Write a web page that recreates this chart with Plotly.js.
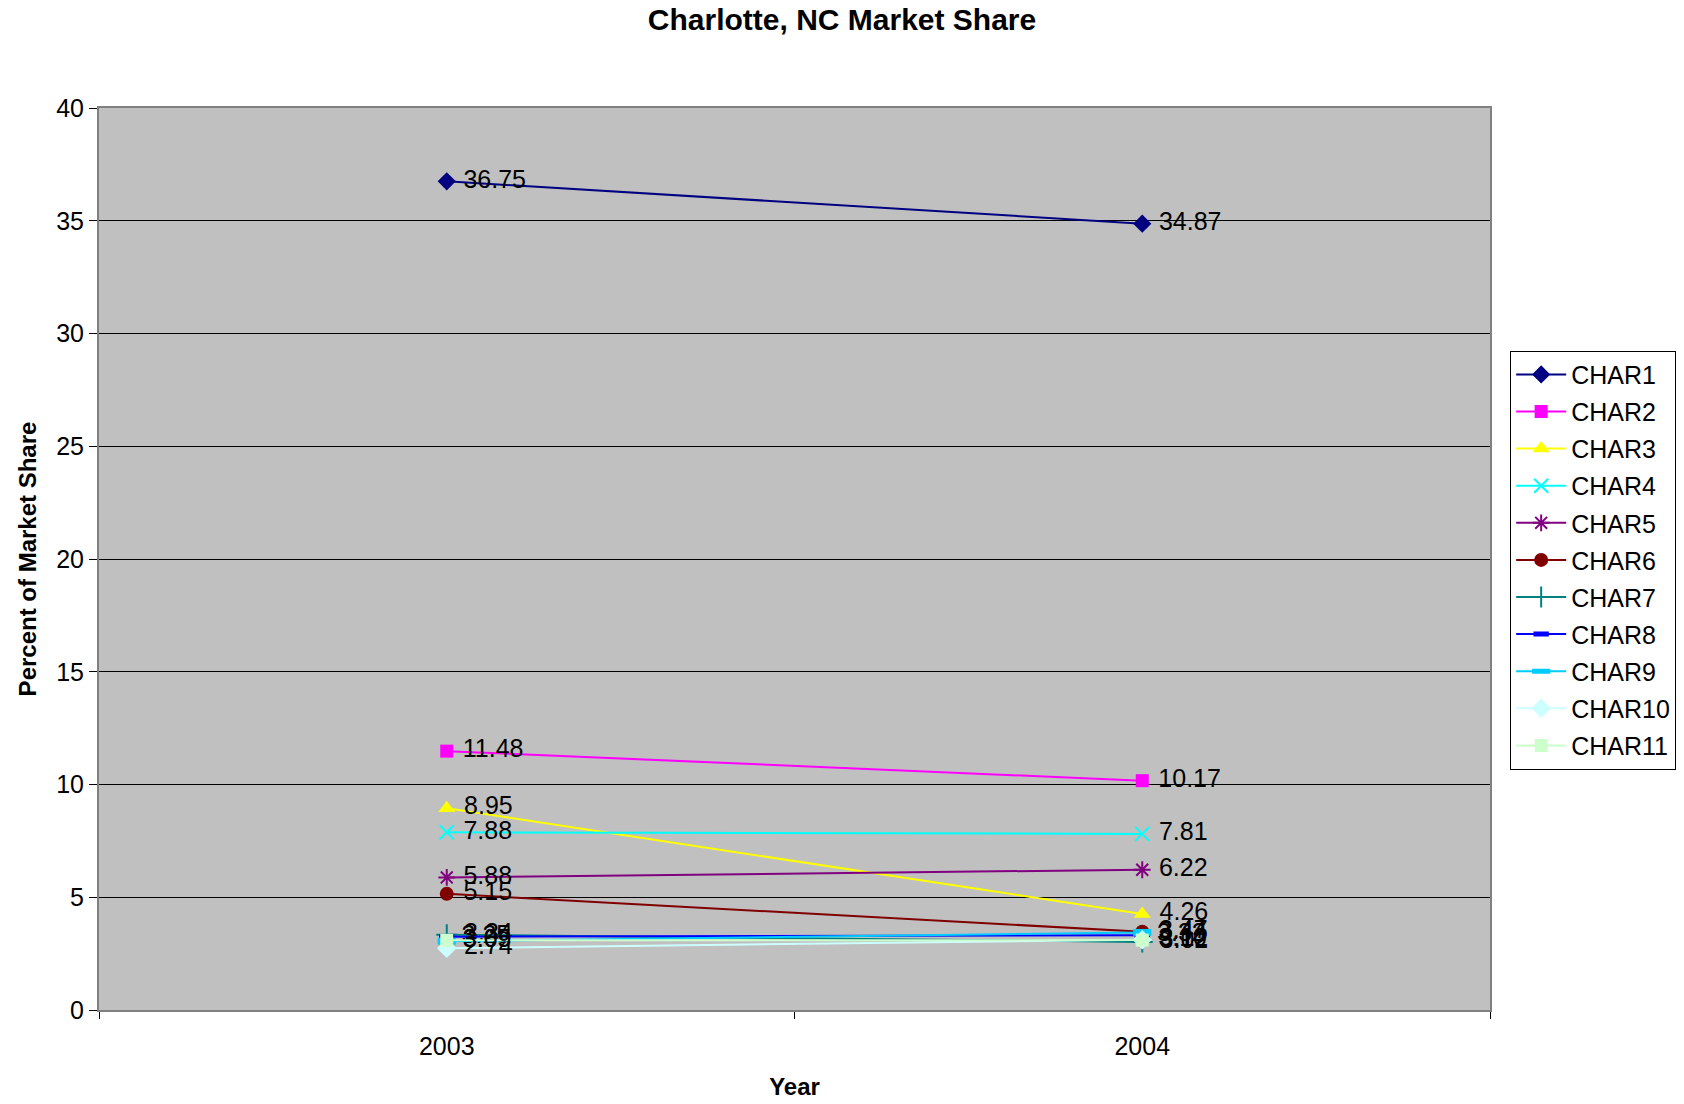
<!DOCTYPE html>
<html><head><meta charset="utf-8">
<script src="https://cdn.plot.ly/plotly-3.0.1.min.js"></script>
<style>body{margin:0;background:#fff}#chart{width:1684px;height:1104px}</style>
</head><body><div id="chart"></div>
<script>
const years = ['2003', '2004'];
const seriesNames = ['CHAR1','CHAR2','CHAR3','CHAR4','CHAR5','CHAR6','CHAR7','CHAR8','CHAR9','CHAR10','CHAR11'];
const char1 = [36.75, 34.87];
const char2 = [11.48, 10.17];
const char3 = [8.95, 4.26];
const char4 = [7.88, 7.81];
const char5 = [5.88, 6.22];
const char6 = [5.15, 3.47];
const char7 = [3.34, 3.02];
const char8 = [3.25, 3.32];
const char9 = [3.05, 3.44];
const char10 = [2.74, 3.12];
const char11 = [3.09, 3.10];
const seriesValues = [char1,char2,char3,char4,char5,char6,char7,char8,char9,char10,char11];
const colors = ['#000080','#FF00FF','#FFFF00','#00FFFF','#800080','#800000','#008080','#0000FF','#00CCFF','#CCFFFF','#CCFFCC'];
const symbols = ['diamond','square','triangle-up','x-thin-open','asterisk-open','circle','cross-thin-open','line-ew-open','line-ew-open','diamond','square'];
const sizes = [14,13,15,14,14,14,15,11,13,15,13];
const FONT = 'Liberation Sans, Arial, sans-serif';

const traces = seriesNames.map((n,i)=>{
  const open = symbols[i].endsWith('-open');
  let lw = 0;
  if (open) lw = 2;
  if (symbols[i]==='line-ew-open') lw = i===7 ? 5 : 7;
  return {
    type:'scatter', mode:'lines+markers+text', name:n, legendgroup:n,
    x:[0,1], y:seriesValues[i],
    text: seriesValues[i].map(v=>' '+v.toFixed(2)),
    textposition:'middle right',
    textfont:{family:FONT,size:25,color:'#000'},
    line:{color:colors[i],width:2},
    marker:{symbol:symbols[i],size:sizes[i],color:colors[i],line:{color:colors[i],width:lw}},
    cliponaxis:false
  };
});

const layout = {
  width:1684, height:1104,
  paper_bgcolor:'#ffffff', plot_bgcolor:'#C0C0C0',
  margin:{l:99,r:194,t:108,b:94,autoexpand:false},
  title:{text:'<b>Charlotte, NC Market Share</b>', x:0.5, xref:'container', yref:'container', y:0.982, yanchor:'middle', font:{family:FONT,size:30,color:'#000'}},
  xaxis:{range:[-0.5,1.5], tickmode:'array', tickvals:[0,1], ticktext:years, ticks:'', showgrid:false, zeroline:false,
    showline:true, linecolor:'#808080', linewidth:2, mirror:true,
    tickfont:{family:FONT,size:25,color:'#000'}, ticklabelstandoff:13,
    minor:{tickmode:'linear', tick0:-0.5, dtick:1, ticks:'outside', ticklen:7, tickcolor:'#000', tickwidth:1, showgrid:false},
    title:{text:'<b>Year</b>', font:{family:FONT,size:24,color:'#000'}, standoff:19}},
  yaxis:{range:[0,40], dtick:5, ticks:'outside', ticklen:8, tickcolor:'#000', showgrid:true, gridcolor:'#000', gridwidth:1,
    zeroline:false, showline:true, linecolor:'#808080', linewidth:2, mirror:true,
    tickfont:{family:FONT,size:25,color:'#000'},
    title:{text:'<b>Percent of Market Share</b>', font:{family:FONT,size:24,color:'#000'}, standoff:13}},
  legend:{x:1.0145, xanchor:'left', y:0.731, yanchor:'top', bgcolor:'#ffffff', bordercolor:'#000', borderwidth:1,
    font:{family:FONT,size:25,color:'#000'}, tracegroupgap:1.6, itemwidth:50},
  showlegend:true
};
Plotly.newPlot('chart', traces, layout, {displayModeBar:false});
</script>
</body></html>
